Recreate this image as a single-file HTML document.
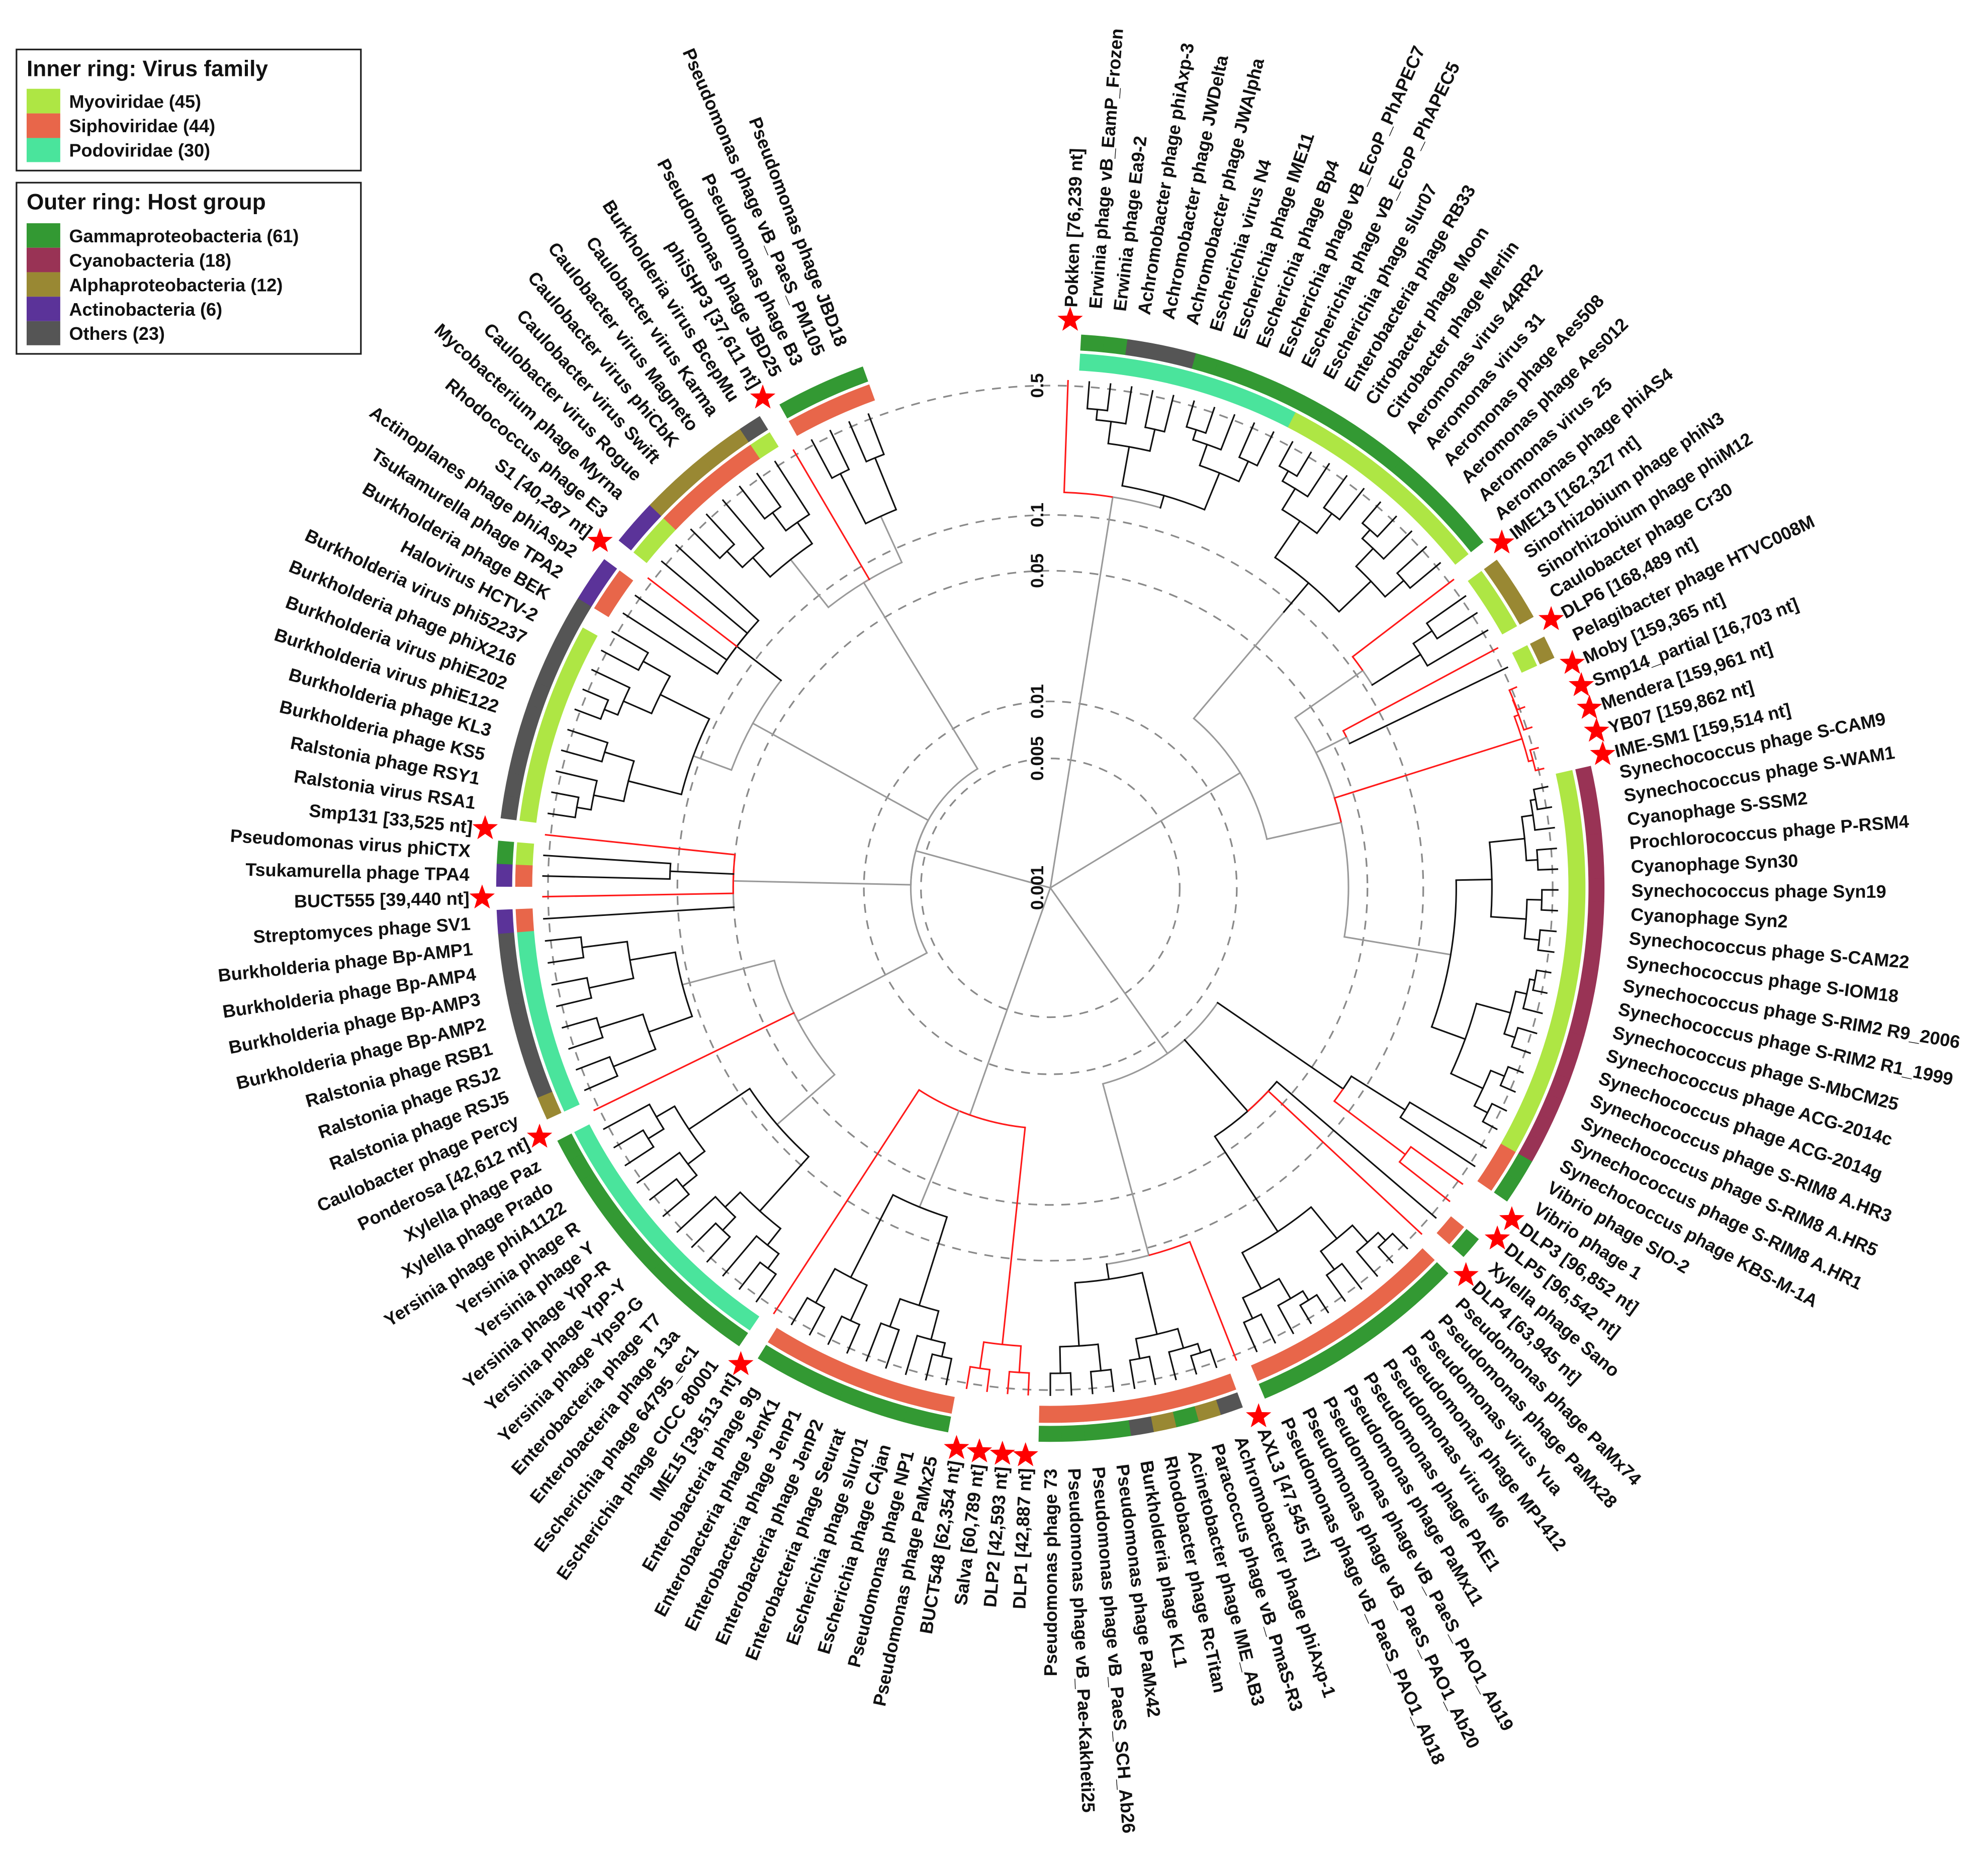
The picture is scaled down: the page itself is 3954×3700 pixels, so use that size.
<!DOCTYPE html>
<html><head><meta charset="utf-8">
<style>
html,body{margin:0;padding:0;background:#fff;}
svg{display:block;}
.lb{font-family:"Liberation Sans",sans-serif;font-weight:bold;font-size:14.3px;fill:#111;}
.lg{font-family:"Liberation Sans",sans-serif;font-weight:bold;fill:#111;}
.sc{font-family:"Liberation Sans",sans-serif;font-weight:bold;font-size:14px;fill:#111;}
</style></head>
<body>
<svg id="s" xmlns="http://www.w3.org/2000/svg" width="3954" height="3700" viewBox="0 0 1567.2 1466.5">
<rect x="0" y="0" width="1567.2" height="1466.5" fill="#fff"/>
<rect x="13" y="39" width="271.5" height="95.5" fill="#fff" stroke="#222" stroke-width="1.3"/>
<text class="lg" x="21" y="60" font-size="17.5">Inner ring: Virus family</text>
<rect x="21" y="70" width="26.5" height="19.4" fill="#aee644"/>
<rect x="21" y="89.4" width="26.5" height="19.4" fill="#e8664a"/>
<rect x="21" y="108.8" width="26.5" height="19" fill="#4ae49c"/>
<text class="lg" x="54.5" y="85" font-size="14.3">Myoviridae (45)</text>
<text class="lg" x="54.5" y="104.3" font-size="14.3">Siphoviridae (44)</text>
<text class="lg" x="54.5" y="123.5" font-size="14.3">Podoviridae (30)</text>
<rect x="13" y="144" width="271.5" height="135" fill="#fff" stroke="#222" stroke-width="1.3"/>
<text class="lg" x="21" y="165" font-size="17.5">Outer ring: Host group</text>
<rect x="21" y="176" width="26.5" height="19.3" fill="#339933"/>
<rect x="21" y="195.3" width="26.5" height="19.3" fill="#993355"/>
<rect x="21" y="214.6" width="26.5" height="19.3" fill="#998833"/>
<rect x="21" y="233.9" width="26.5" height="19.3" fill="#5b3399"/>
<rect x="21" y="253.2" width="26.5" height="19" fill="#555555"/>
<text class="lg" x="54.5" y="191" font-size="14.3">Gammaproteobacteria (61)</text>
<text class="lg" x="54.5" y="210.3" font-size="14.3">Cyanobacteria (18)</text>
<text class="lg" x="54.5" y="229.6" font-size="14.3">Alphaproteobacteria (12)</text>
<text class="lg" x="54.5" y="248.9" font-size="14.3">Actinobacteria (6)</text>
<text class="lg" x="54.5" y="268" font-size="14.3">Others (23)</text>

<g id="circ"></g>
<g id="tree"></g>
<g id="rings"></g>
<g id="stars"></g>
<g id="scale">
<text class="sc" transform="translate(817.5,700) rotate(-90)" text-anchor="middle" dy="0.36em">0.001</text>
<text class="sc" transform="translate(817.5,598) rotate(-90)" text-anchor="middle" dy="0.36em">0.005</text>
<text class="sc" transform="translate(817.5,553) rotate(-90)" text-anchor="middle" dy="0.36em">0.01</text>
<text class="sc" transform="translate(817.5,450) rotate(-90)" text-anchor="middle" dy="0.36em">0.05</text>
<text class="sc" transform="translate(817.5,406) rotate(-90)" text-anchor="middle" dy="0.36em">0.1</text>
<text class="sc" transform="translate(817.5,304) rotate(-90)" text-anchor="middle" dy="0.36em">0.5</text>
</g>
<g id="labels">
<text class="lb">Pokken [76,239 nt]</text>
<text class="lb">Erwinia phage vB_EamP_Frozen</text>
<text class="lb">Erwinia phage Ea9-2</text>
<text class="lb">Achromobacter phage phiAxp-3</text>
<text class="lb">Achromobacter phage JWDelta</text>
<text class="lb">Achromobacter phage JWAlpha</text>
<text class="lb">Escherichia virus N4</text>
<text class="lb">Escherichia phage IME11</text>
<text class="lb">Escherichia phage Bp4</text>
<text class="lb">Escherichia phage vB_EcoP_PhAPEC7</text>
<text class="lb">Escherichia phage vB_EcoP_PhAPEC5</text>
<text class="lb">Escherichia phage slur07</text>
<text class="lb">Enterobacteria phage RB33</text>
<text class="lb">Citrobacter phage Moon</text>
<text class="lb">Citrobacter phage Merlin</text>
<text class="lb">Aeromonas virus 44RR2</text>
<text class="lb">Aeromonas virus 31</text>
<text class="lb">Aeromonas phage Aes508</text>
<text class="lb">Aeromonas phage Aes012</text>
<text class="lb">Aeromonas virus 25</text>
<text class="lb">Aeromonas phage phiAS4</text>
<text class="lb">IME13 [162,327 nt]</text>
<text class="lb">Sinorhizobium phage phiN3</text>
<text class="lb">Sinorhizobium phage phiM12</text>
<text class="lb">Caulobacter phage Cr30</text>
<text class="lb">DLP6 [168,489 nt]</text>
<text class="lb">Pelagibacter phage HTVC008M</text>
<text class="lb">Moby [159,365 nt]</text>
<text class="lb">Smp14_partial [16,703 nt]</text>
<text class="lb">Mendera [159,961 nt]</text>
<text class="lb">YB07 [159,862 nt]</text>
<text class="lb">IME-SM1 [159,514 nt]</text>
<text class="lb">Synechococcus phage S-CAM9</text>
<text class="lb">Synechococcus phage S-WAM1</text>
<text class="lb">Cyanophage S-SSM2</text>
<text class="lb">Prochlorococcus phage P-RSM4</text>
<text class="lb">Cyanophage Syn30</text>
<text class="lb">Synechococcus phage Syn19</text>
<text class="lb">Cyanophage Syn2</text>
<text class="lb">Synechococcus phage S-CAM22</text>
<text class="lb">Synechococcus phage S-IOM18</text>
<text class="lb">Synechococcus phage S-RIM2 R9_2006</text>
<text class="lb">Synechococcus phage S-RIM2 R1_1999</text>
<text class="lb">Synechococcus phage S-MbCM25</text>
<text class="lb">Synechococcus phage ACG-2014c</text>
<text class="lb">Synechococcus phage ACG-2014g</text>
<text class="lb">Synechococcus phage S-RIM8 A.HR3</text>
<text class="lb">Synechococcus phage S-RIM8 A.HR5</text>
<text class="lb">Synechococcus phage S-RIM8 A.HR1</text>
<text class="lb">Synechococcus phage KBS-M-1A</text>
<text class="lb">Vibrio phage SIO-2</text>
<text class="lb">Vibrio phage 1</text>
<text class="lb">DLP3 [96,852 nt]</text>
<text class="lb">DLP5 [96,542 nt]</text>
<text class="lb">Xylella phage Sano</text>
<text class="lb">DLP4 [63,945 nt]</text>
<text class="lb">Pseudomonas phage PaMx74</text>
<text class="lb">Pseudomonas phage PaMx28</text>
<text class="lb">Pseudomonas virus Yua</text>
<text class="lb">Pseudomonas phage MP1412</text>
<text class="lb">Pseudomonas virus M6</text>
<text class="lb">Pseudomonas phage PAE1</text>
<text class="lb">Pseudomonas phage PaMx11</text>
<text class="lb">Pseudomonas phage vB_PaeS_PAO1_Ab19</text>
<text class="lb">Pseudomonas phage vB_PaeS_PAO1_Ab20</text>
<text class="lb">Pseudomonas phage vB_PaeS_PAO1_Ab18</text>
<text class="lb">AXL3 [47,545 nt]</text>
<text class="lb">Achromobacter phage phiAxp-1</text>
<text class="lb">Paracoccus phage vB_PmaS-R3</text>
<text class="lb">Acinetobacter phage IME_AB3</text>
<text class="lb">Rhodobacter phage RcTitan</text>
<text class="lb">Burkholderia phage KL1</text>
<text class="lb">Pseudomonas phage PaMx42</text>
<text class="lb">Pseudomonas phage vB_PaeS_SCH_Ab26</text>
<text class="lb">Pseudomonas phage vB_Pae-Kakheti25</text>
<text class="lb">Pseudomonas phage 73</text>
<text class="lb">DLP1 [42,887 nt]</text>
<text class="lb">DLP2 [42,593 nt]</text>
<text class="lb">Salva [60,789 nt]</text>
<text class="lb">BUCT548 [62,354 nt]</text>
<text class="lb">Pseudomonas phage PaMx25</text>
<text class="lb">Pseudomonas phage NP1</text>
<text class="lb">Escherichia phage CAjan</text>
<text class="lb">Escherichia phage slur01</text>
<text class="lb">Enterobacteria phage Seurat</text>
<text class="lb">Enterobacteria phage JenP2</text>
<text class="lb">Enterobacteria phage JenP1</text>
<text class="lb">Enterobacteria phage JenK1</text>
<text class="lb">Enterobacteria phage 9g</text>
<text class="lb">IME15 [38,513 nt]</text>
<text class="lb">Escherichia phage CICC 80001</text>
<text class="lb">Escherichia phage 64795_ec1</text>
<text class="lb">Enterobacteria phage 13a</text>
<text class="lb">Enterobacteria phage T7</text>
<text class="lb">Yersinia phage YpsP-G</text>
<text class="lb">Yersinia phage YpP-Y</text>
<text class="lb">Yersinia phage YpP-R</text>
<text class="lb">Yersinia phage Y</text>
<text class="lb">Yersinia phage R</text>
<text class="lb">Yersinia phage phiA1122</text>
<text class="lb">Xylella phage Prado</text>
<text class="lb">Xylella phage Paz</text>
<text class="lb">Ponderosa [42,612 nt]</text>
<text class="lb">Caulobacter phage Percy</text>
<text class="lb">Ralstonia phage RSJ5</text>
<text class="lb">Ralstonia phage RSJ2</text>
<text class="lb">Ralstonia phage RSB1</text>
<text class="lb">Burkholderia phage Bp-AMP2</text>
<text class="lb">Burkholderia phage Bp-AMP3</text>
<text class="lb">Burkholderia phage Bp-AMP4</text>
<text class="lb">Burkholderia phage Bp-AMP1</text>
<text class="lb">Streptomyces phage SV1</text>
<text class="lb">BUCT555 [39,440 nt]</text>
<text class="lb">Tsukamurella phage TPA4</text>
<text class="lb">Pseudomonas virus phiCTX</text>
<text class="lb">Smp131 [33,525 nt]</text>
<text class="lb">Ralstonia virus RSA1</text>
<text class="lb">Ralstonia phage RSY1</text>
<text class="lb">Burkholderia phage KS5</text>
<text class="lb">Burkholderia phage KL3</text>
<text class="lb">Burkholderia virus phiE122</text>
<text class="lb">Burkholderia virus phiE202</text>
<text class="lb">Burkholderia phage phiX216</text>
<text class="lb">Burkholderia virus phi52237</text>
<text class="lb">Halovirus HCTV-2</text>
<text class="lb">Burkholderia phage BEK</text>
<text class="lb">Tsukamurella phage TPA2</text>
<text class="lb">Actinoplanes phage phiAsp2</text>
<text class="lb">S1 [40,287 nt]</text>
<text class="lb">Rhodococcus phage E3</text>
<text class="lb">Mycobacterium phage Myrna</text>
<text class="lb">Caulobacter virus Rogue</text>
<text class="lb">Caulobacter virus Swift</text>
<text class="lb">Caulobacter virus phiCbK</text>
<text class="lb">Caulobacter virus Magneto</text>
<text class="lb">Caulobacter virus Karma</text>
<text class="lb">Burkholderia virus BcepMu</text>
<text class="lb">phiSHP3 [37,611 nt]</text>
<text class="lb">Pseudomonas phage JBD25</text>
<text class="lb">Pseudomonas phage B3</text>
<text class="lb">Pseudomonas phage vB_PaeS_PM105</text>
<text class="lb">Pseudomonas phage JBD18</text>
</g>
</svg>
<script>
(function(){
var NS="http://www.w3.org/2000/svg";
var cx=828, cy=700, RL=458, RS=448, TIP=400;
var H={},F={},STAR={};
function set(a,b,h,f){for(var i=a;i<=b;i++){H[i]=h;F[i]=f;}}
[1,22,26,28,29,30,31,32,53,54,56,67,77,78,79,80,90,103,113,116,129,138].forEach(function(i){STAR[i]=1;});
set(2,3,'G','P');set(4,6,'O','P');set(7,11,'G','P');set(12,21,'G','M');
set(23,25,'A','M');set(27,27,'A','M');set(33,50,'C','M');
set(51,52,'G','S');set(55,55,'G','S');set(57,66,'G','S');
set(68,68,'O','S');set(69,69,'A','S');set(70,70,'G','S');set(71,71,'A','S');set(72,72,'O','S');set(73,76,'G','S');
set(81,89,'G','S');set(91,102,'G','P');set(104,104,'A','P');set(105,111,'O','P');
set(112,112,'X','S');set(114,114,'X','S');set(115,115,'G','M');
set(117,125,'O','M');set(126,126,'O','');set(127,128,'X','S');set(130,131,'X','M');
set(132,136,'A','S');set(137,137,'O','M');set(139,142,'G','S');
var HC={G:'#339933',C:'#993355',A:'#998833',X:'#5b3399',O:'#555555'};
var FC={M:'#aee644',S:'#e8664a',P:'#4ae49c'};
var anc=[[1,2],[22,52.6],[26,61.8],[28,66.7],[32,76.4],[33,78.5],[50,118.4],[53,125.7],[56,133],[66,156],[67,158.5],[76,180],[77,182.5],[80,189.5],[90,213],[103,244],[113,269],[116,276],[129,307.6],[138,329.6],[142,339]];
var A={};
for(var k=0;k<anc.length-1;k++){var a0=anc[k],a1=anc[k+1];for(var i=a0[0];i<=a1[0];i++){A[i]=a0[1]+(a1[1]-a0[1])*(i-a0[0])/(a1[0]-a0[0]);}}
var NL=142;
function P(r,a){var t=a*Math.PI/180;return [cx+r*Math.sin(t),cy-r*Math.cos(t)];}
function el(tag,at,par){var e=document.createElementNS(NS,tag);for(var q in at)e.setAttribute(q,at[q]);document.getElementById(par).appendChild(e);return e;}
[102,147,250,294,396].forEach(function(r){el('circle',{cx:cx,cy:cy,r:r,fill:'none',stroke:'#8a8a8a','stroke-width':1.3,'stroke-dasharray':'7 6'},'circ');});
var ts=document.getElementById('labels').getElementsByTagName('text');
for(var i=0;i<ts.length;i++){var a=A[i+1],t=ts[i];t.setAttribute('dy','0.36em');
 if(a<180){t.setAttribute('x',cx+RL);t.setAttribute('y',cy);t.setAttribute('text-anchor','start');t.setAttribute('transform','rotate('+(a-90)+' '+cx+' '+cy+')');}
 else{t.setAttribute('x',cx-RL);t.setAttribute('y',cy);t.setAttribute('text-anchor','end');t.setAttribute('transform','rotate('+(a+90)+' '+cx+' '+cy+')');}}
for(var i=1;i<=NL;i++){if(!STAR[i])continue;var c=P(RS,A[i]);var pts=[];
 for(var j=0;j<10;j++){var rr=j%2?4.3:10.5;var th=(j*36-90)*Math.PI/180;pts.push((c[0]+rr*Math.cos(th)).toFixed(2)+','+(c[1]+rr*Math.sin(th)).toFixed(2));}
 el('polygon',{points:pts.join(' '),fill:'#ff0000'},'stars');}
function seg(r0,r1,a0,a1,col){var p1=P(r1,a0),p2=P(r1,a1),p3=P(r0,a1),p4=P(r0,a0);var lg=(a1-a0)>180?1:0;
 el('path',{d:'M'+p1+' A'+r1+' '+r1+' 0 '+lg+' 1 '+p2+' L'+p3+' A'+r0+' '+r0+' 0 '+lg+' 0 '+p4+' Z',fill:col,stroke:col,'stroke-width':0.3},'rings');}
for(var i=1;i<=NL;i++){if(STAR[i])continue;var a=A[i];
 var lo=(i>1)?A[i-1]:a-2.4, hi=(i<NL)?A[i+1]:a+2.4;
 var b0=(a-lo<4)?(a+lo)/2:a-1.2, b1=(hi-a<4)?(a+hi)/2:a+1.2;
 if(i>1&&STAR[i-1])b0=a-1.2; if(i<NL&&STAR[i+1])b1=a+1.2;
 if(H[i])seg(424.4,436.7,b0,b1,HC[H[i]]);
 if(F[i])seg(408.6,421.7,b0,b1,FC[F[i]]);}
var COL={g:'#9a9a9a',k:'#111111',R:'#ff1a1a'};
function Lf(i,c){return {leaf:i,c:c};}
function Nd(r,c,kids,sc){return {r:r,c:c,kids:kids,sc:sc||c};}
function bal(a,b,r0,r1,c,sc){if(a==b)return Lf(a,c);var m=Math.floor((a+b)/2);
 var f=0.3+0.35*(((a*7+b*3)%5)/5);var rn=r0+(r1-r0)*f;if(r1-rn<4)rn=r1-4;
 return Nd(r0,c,[bal(a,m,rn,r1,c),bal(m+1,b,rn,r1,c)],sc);}
function nang(n){if(n.leaf)return A[n.leaf];if(n._a!==undefined)return n._a;var x0=nang(n.kids[0]),x1=nang(n.kids[n.kids.length-1]);n._a=(x0+x1)/2;return n._a;}
function line(r0,r1,a,c){var p=P(r0,a),q=P(r1,a);el('line',{x1:p[0],y1:p[1],x2:q[0],y2:q[1],stroke:COL[c],'stroke-width':1.25,'stroke-linecap':'square'},'tree');}
function arc(r,x0,x1,c){if(r<=0||Math.abs(x1-x0)<0.01)return;var p=P(r,x0),q=P(r,x1);el('path',{d:'M'+p+' A'+r+' '+r+' 0 '+((x1-x0)>180?1:0)+' 1 '+q,fill:'none',stroke:COL[c],'stroke-width':1.25},'tree');}
function drawN(n,pr){var a=nang(n);
 if(n.leaf){line(pr,TIP,a,n.c);return;}
 line(pr,n.r,a,n.sc);
 n.kids.forEach(function(ch){var ca=nang(ch);var cc=(ch.leaf?ch.c:ch.sc);arc(n.r,Math.min(a,ca),Math.max(a,ca),cc=='R'?'R':n.c);});
 n.kids.forEach(function(ch){drawN(ch,n.r);});}
var T=Nd(0,'g',[
 Nd(312,'g',[Lf(1,'R'),bal(2,11,322,393,'k')]),
 Nd(175,'g',[
   Nd(285,'g',[bal(12,21,315,394,'k')]),
   Nd(235,'g',[
     Nd(300,'g',[Lf(22,'R'),bal(23,25,345,393,'k')]),
     Nd(262,'g',[Lf(26,'R'),Lf(27,'k')]),
     Nd(330,'R',[bal(28,32,390,398,'R')]),
     bal(33,50,320,396,'k','g')
   ])
 ]),
 Nd(160,'g',[
   Nd(280,'k',[Nd(330,'k',[Lf(51,'k'),Lf(52,'k')]),Nd(350,'R',[Lf(53,'R'),Lf(54,'R')])]),
   Nd(235,'k',[Lf(55,'k'),Lf(56,'R'),bal(57,66,325,398,'k')]),
   Nd(300,'g',[Lf(67,'R'),bal(68,76,312,398,'k')])
 ]),
 Nd(190,'g',[
   Nd(305,'R',[bal(77,80,362,398,'R')]),
   bal(81,89,272,398,'k','g'),
   Lf(90,'R')
 ]),
 Nd(110,'g',[
   Nd(225,'g',[bal(91,102,285,398,'k','g'),Lf(103,'R'),bal(104,111,300,398,'k','g')]),
   Nd(250,'g',[Lf(112,'k'),Lf(113,'R'),Nd(300,'k',[Lf(114,'k'),Lf(115,'k')]),Lf(116,'R')]),
   Nd(268,'g',[bal(117,126,300,398,'k','g'),Nd(312,'k',[Lf(127,'k'),Lf(128,'k'),Lf(129,'R'),Lf(130,'k'),Lf(131,'k')])]),
   Nd(282,'g',[bal(132,137,330,398,'k','g'),Lf(138,'R'),bal(139,142,322,398,'k','g')])
 ])
]);
T.kids.forEach(function(ch){drawN(ch,0);});
})();
</script>
</body></html>
